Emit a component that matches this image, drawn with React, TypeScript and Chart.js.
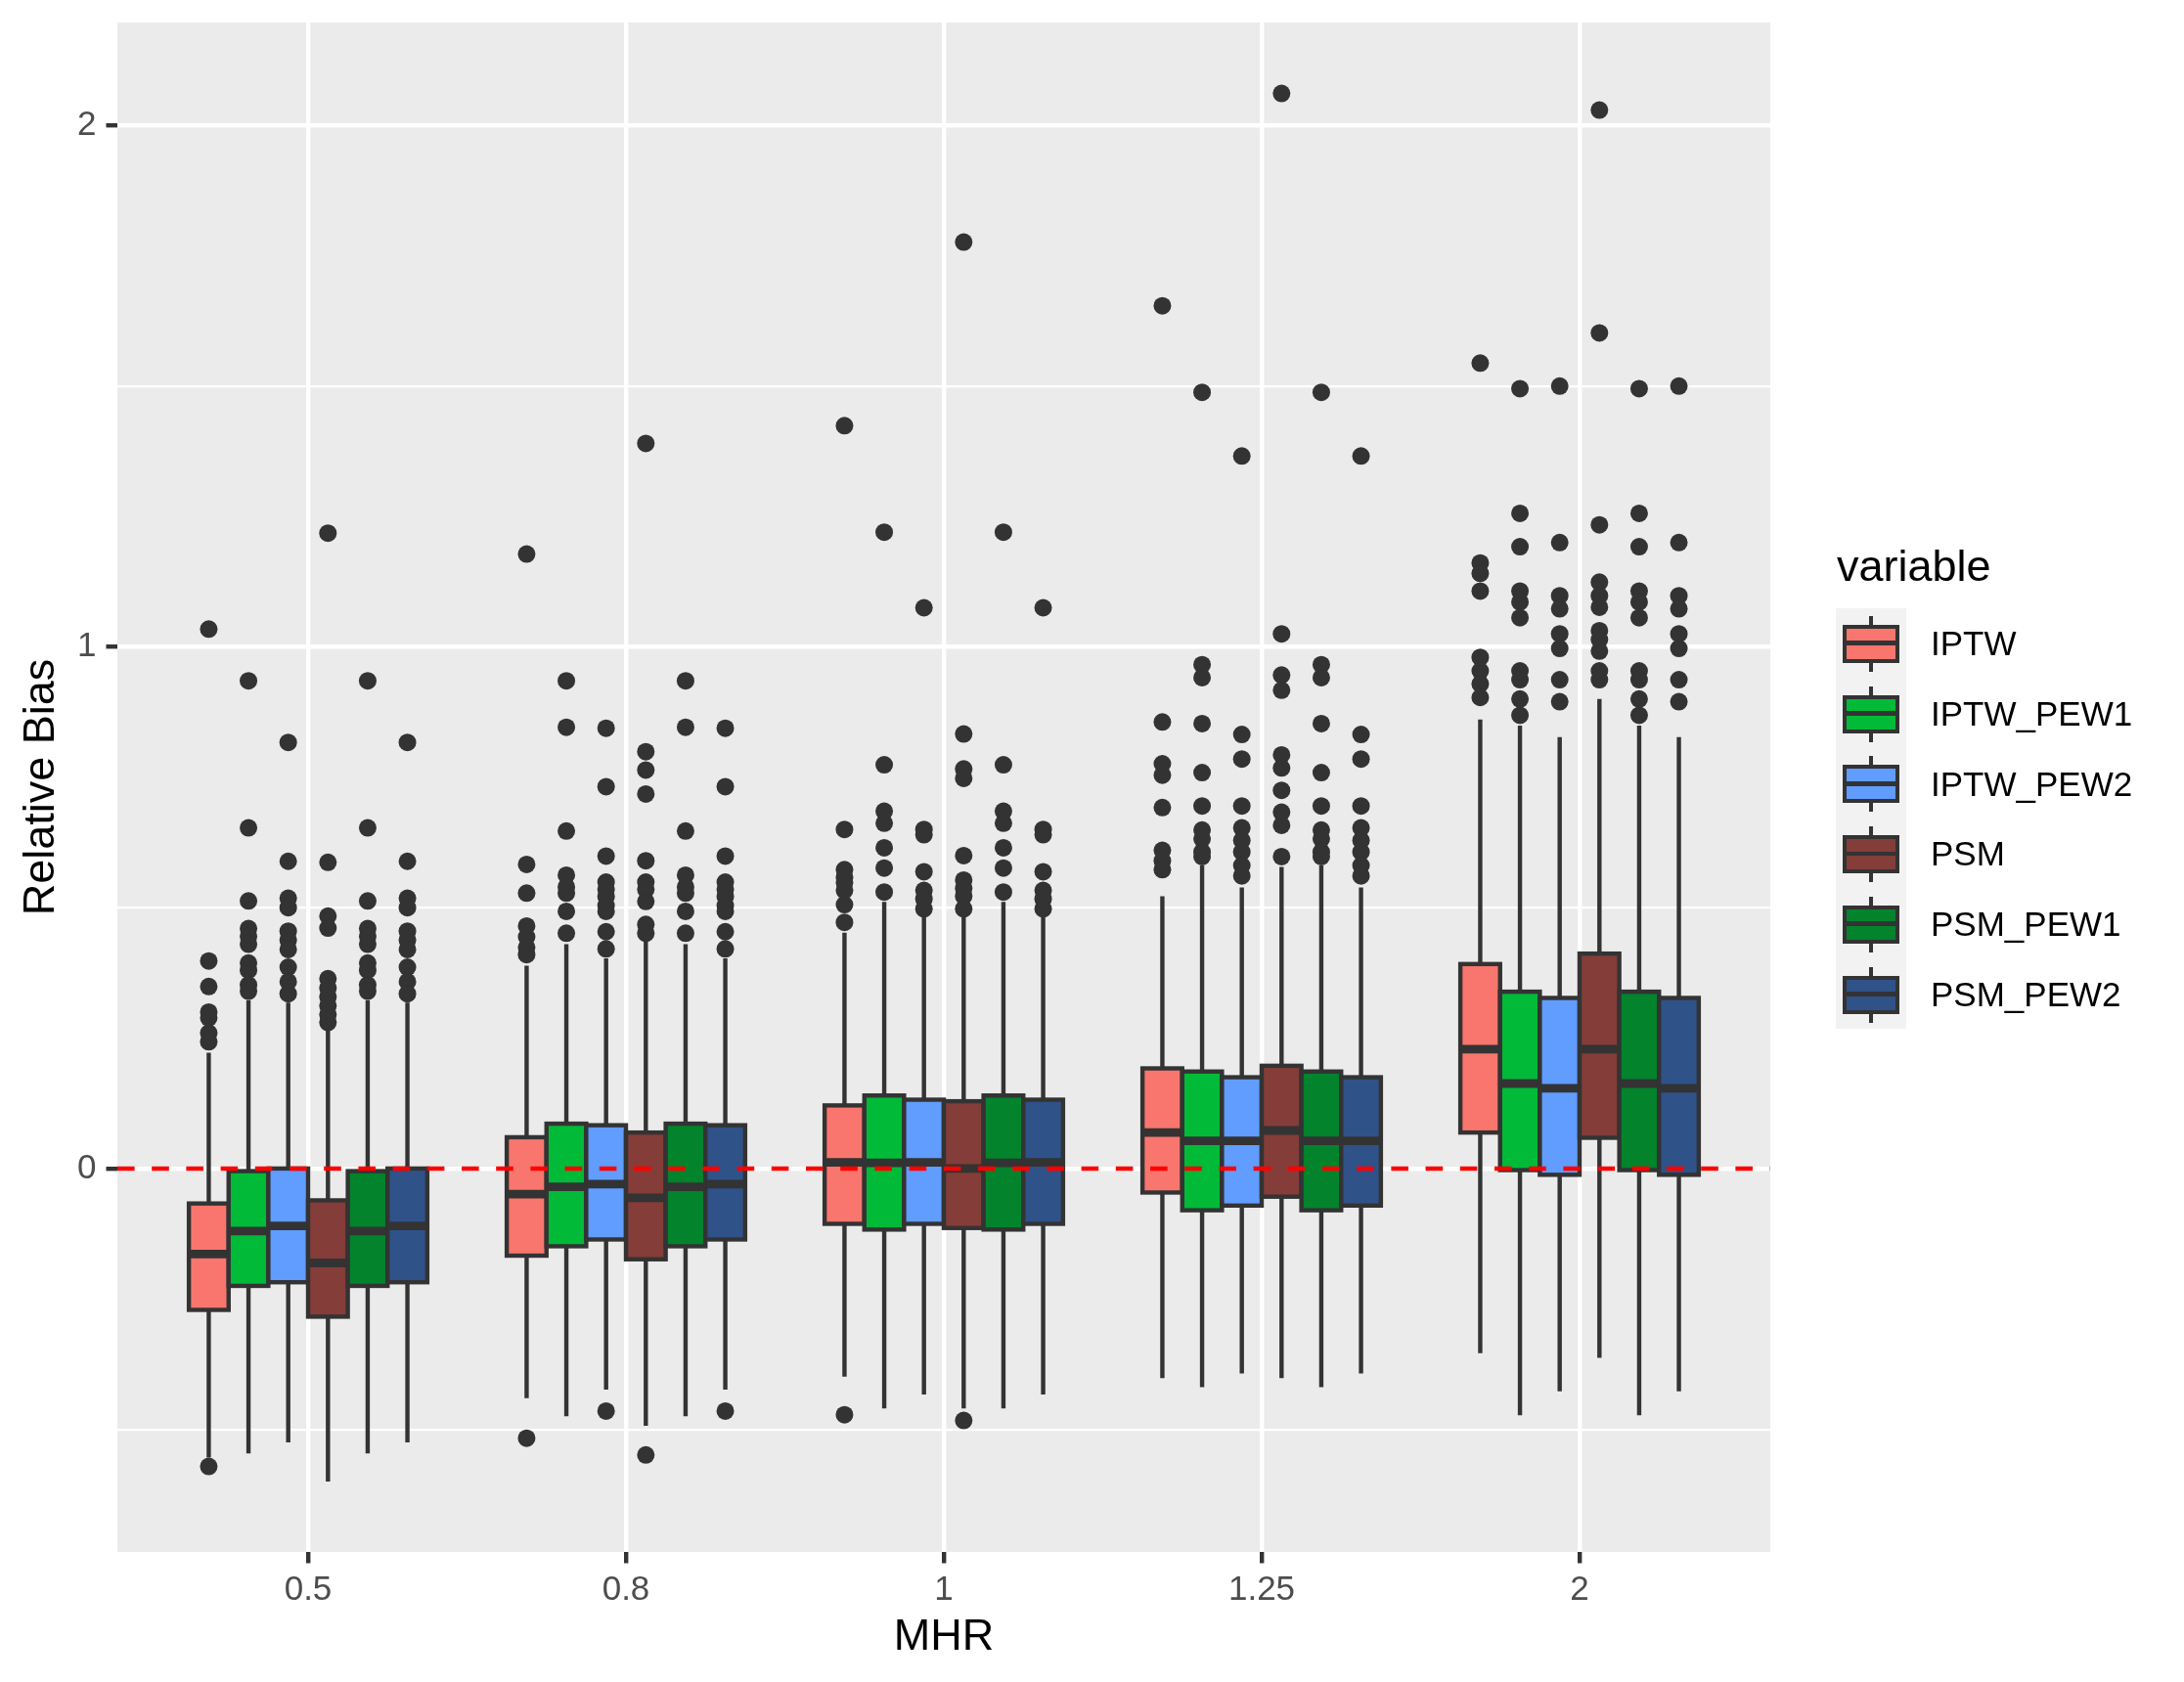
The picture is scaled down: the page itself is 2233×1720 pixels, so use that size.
import { useEffect, useRef } from "react"
import { Chart, registerables } from "chart.js"

Chart.register(...registerables)

const FONT = "'Liberation Sans', Arial, Helvetica, sans-serif"

const categories = ["0.5", "0.8", "1", "1.25", "2"]
const variables = ["IPTW", "IPTW_PEW1", "IPTW_PEW2", "PSM", "PSM_PEW1", "PSM_PEW2"]
const fillColors = ["#F8766D", "#00BA38", "#619CFF", "#843D38", "#02832C", "#2F5289"]

const yBreaks = [-0.5, 0, 0.5, 1, 1.5, 2]
const yLabelled = [0, 1, 2]

// box statistics: one row per variable, one value per MHR category
const whiskerLow = [
  [-0.554, -0.44, -0.399, -0.402, -0.354],
  [-0.546, -0.475, -0.46, -0.419, -0.473],
  [-0.525, -0.424, -0.433, -0.393, -0.427],
  [-0.6, -0.493, -0.46, -0.402, -0.363],
  [-0.546, -0.475, -0.46, -0.419, -0.473],
  [-0.525, -0.424, -0.433, -0.393, -0.427],
]
const lowerQuartile = [
  [-0.271, -0.167, -0.106, -0.046, 0.069],
  [-0.225, -0.149, -0.117, -0.08, -0.003],
  [-0.218, -0.136, -0.106, -0.071, -0.012],
  [-0.284, -0.174, -0.114, -0.054, 0.059],
  [-0.225, -0.149, -0.117, -0.08, -0.003],
  [-0.218, -0.136, -0.106, -0.071, -0.012],
]
const medians = [
  [-0.164, -0.049, 0.012, 0.069, 0.229],
  [-0.12, -0.035, 0.011, 0.053, 0.163],
  [-0.11, -0.03, 0.012, 0.053, 0.154],
  [-0.181, -0.056, 0.0, 0.073, 0.229],
  [-0.12, -0.035, 0.011, 0.053, 0.163],
  [-0.11, -0.03, 0.012, 0.053, 0.154],
]
const upperQuartile = [
  [-0.067, 0.06, 0.121, 0.192, 0.392],
  [-0.005, 0.086, 0.14, 0.186, 0.339],
  [0.0, 0.083, 0.132, 0.175, 0.327],
  [-0.061, 0.069, 0.129, 0.197, 0.412],
  [-0.005, 0.086, 0.14, 0.186, 0.339],
  [0.0, 0.083, 0.132, 0.175, 0.327],
]
const whiskerHigh = [
  [0.222, 0.389, 0.452, 0.522, 0.861],
  [0.323, 0.43, 0.511, 0.581, 0.849],
  [0.318, 0.403, 0.483, 0.539, 0.827],
  [0.266, 0.4375, 0.483, 0.578, 0.9],
  [0.323, 0.43, 0.511, 0.581, 0.849],
  [0.318, 0.403, 0.483, 0.539, 0.827],
]

// outliers per variable, one list per MHR category
const iptwOutliers = [
  [1.034, 0.398, 0.349, 0.3, 0.289, 0.26, 0.243, -0.571],
  [1.178, 0.583, 0.528, 0.465, 0.444, 0.424, 0.41, -0.517],
  [1.424, 0.65, 0.573, 0.558, 0.548, 0.533, 0.506, 0.472, -0.472],
  [1.654, 0.856, 0.776, 0.754, 0.692, 0.61, 0.59, 0.573],
  [1.544, 1.161, 1.141, 1.107, 0.98, 0.954, 0.929, 0.903],
]
const iptwPew1Outliers = [
  [0.935, 0.653, 0.513, 0.46, 0.445, 0.43, 0.394, 0.38, 0.352, 0.34],
  [0.935, 0.846, 0.647, 0.5625, 0.54, 0.528, 0.493, 0.451],
  [1.22, 0.774, 0.685, 0.662, 0.615, 0.576, 0.53],
  [1.488, 0.966, 0.941, 0.853, 0.759, 0.695, 0.649, 0.632, 0.607, 0.598],
  [1.495, 1.256, 1.192, 1.107, 1.086, 1.056, 0.954, 0.937, 0.9, 0.869],
]
const iptwPew2Outliers = [
  [0.817, 0.589, 0.518, 0.5, 0.455, 0.438, 0.42, 0.386, 0.358, 0.335],
  [0.844, 0.732, 0.599, 0.549, 0.535, 0.521, 0.504, 0.493, 0.454, 0.421, -0.465],
  [1.075, 0.65, 0.64, 0.569, 0.533, 0.517, 0.498],
  [1.366, 0.832, 0.785, 0.695, 0.653, 0.629, 0.607, 0.581, 0.561],
  [1.5, 1.2, 1.098, 1.073, 1.025, 0.997, 0.937, 0.895],
]
const psmOutliers = [
  [1.218, 0.587, 0.484, 0.461, 0.364, 0.346, 0.329, 0.312, 0.295, 0.28],
  [1.39, 0.799, 0.764, 0.718, 0.59, 0.549, 0.535, 0.512, 0.468, 0.451, -0.549],
  [1.776, 0.833, 0.766, 0.748, 0.6, 0.553, 0.537, 0.522, 0.498, -0.483],
  [2.061, 1.025, 0.946, 0.917, 0.793, 0.768, 0.725, 0.683, 0.658, 0.598],
  [2.029, 1.602, 1.234, 1.124, 1.098, 1.076, 1.031, 1.014, 0.992, 0.954, 0.937],
]
const psmPew1Outliers = [
  [0.935, 0.653, 0.513, 0.46, 0.445, 0.43, 0.394, 0.38, 0.352, 0.34],
  [0.935, 0.846, 0.647, 0.5625, 0.54, 0.528, 0.493, 0.451],
  [1.22, 0.774, 0.685, 0.662, 0.615, 0.576, 0.53],
  [1.488, 0.966, 0.941, 0.853, 0.759, 0.695, 0.649, 0.632, 0.607, 0.598],
  [1.495, 1.256, 1.192, 1.107, 1.086, 1.056, 0.954, 0.937, 0.9, 0.869],
]
const psmPew2Outliers = [
  [0.817, 0.589, 0.518, 0.5, 0.455, 0.438, 0.42, 0.386, 0.358, 0.335],
  [0.844, 0.732, 0.599, 0.549, 0.535, 0.521, 0.504, 0.493, 0.454, 0.421, -0.465],
  [1.075, 0.65, 0.64, 0.569, 0.533, 0.517, 0.498],
  [1.366, 0.832, 0.785, 0.695, 0.653, 0.629, 0.607, 0.581, 0.561],
  [1.5, 1.2, 1.098, 1.073, 1.025, 0.997, 0.937, 0.895],
]
const outlierSets = [iptwOutliers, iptwPew1Outliers, iptwPew2Outliers, psmOutliers, psmPew1Outliers, psmPew2Outliers]

// dodge width 0.75 shared by six boxes
const slot = 0.75 / variables.length
const boxX = (ci: number, vi: number) => ci + (vi - (variables.length - 1) / 2) * slot

const LINE = 4.4
const INK = "#333333"

const boxPlugin = {
  id: "ggBoxes",
  beforeDraw(chart: Chart) {
    const { ctx, chartArea: a } = chart
    ctx.save()
    ctx.fillStyle = "#EBEBEB"
    ctx.fillRect(a.left, a.top, a.right - a.left, a.bottom - a.top)
    ctx.restore()
  },
  beforeDatasetsDraw(chart: Chart) {
    const { ctx } = chart
    const xs = chart.scales.x
    const ys = chart.scales.y
    const half = (xs.getPixelForValue(slot) - xs.getPixelForValue(0)) / 2
    ctx.save()
    ctx.strokeStyle = INK
    ctx.lineCap = "butt"
    ctx.lineJoin = "miter"
    variables.forEach((_, vi) => {
      categories.forEach((_, ci) => {
        const cx = xs.getPixelForValue(boxX(ci, vi))
        const lo = ys.getPixelForValue(whiskerLow[vi][ci])
        const q1 = ys.getPixelForValue(lowerQuartile[vi][ci])
        const md = ys.getPixelForValue(medians[vi][ci])
        const q3 = ys.getPixelForValue(upperQuartile[vi][ci])
        const hi = ys.getPixelForValue(whiskerHigh[vi][ci])

        ctx.lineWidth = LINE
        ctx.beginPath()
        ctx.moveTo(cx, hi)
        ctx.lineTo(cx, q3)
        ctx.moveTo(cx, q1)
        ctx.lineTo(cx, lo)
        ctx.stroke()

        ctx.fillStyle = fillColors[vi]
        ctx.fillRect(cx - half, q3, half * 2, q1 - q3)
        ctx.strokeRect(cx - half, q3, half * 2, q1 - q3)

        ctx.lineWidth = LINE * 2
        ctx.beginPath()
        ctx.moveTo(cx - half, md)
        ctx.lineTo(cx + half, md)
        ctx.stroke()
      })
    })
    ctx.restore()
  },
  afterDatasetsDraw(chart: Chart) {
    const { ctx, chartArea: a } = chart
    const y0 = chart.scales.y.getPixelForValue(0)
    ctx.save()
    ctx.strokeStyle = "#FF0000"
    ctx.lineWidth = LINE
    ctx.setLineDash([17.6, 17.6])
    ctx.beginPath()
    ctx.moveTo(a.left, y0)
    ctx.lineTo(a.right, y0)
    ctx.stroke()
    ctx.restore()
  },
}

function BoxChart() {
  const chartRef = useRef<HTMLCanvasElement>(null)
  const chartInstance = useRef<Chart | null>(null)

  useEffect(() => {
    if (!chartRef.current) return
    const ctx = chartRef.current.getContext("2d")
    if (!ctx) return

    if (chartInstance.current) {
      chartInstance.current.destroy()
    }

    chartInstance.current = new Chart(ctx, {
      type: "scatter",
      data: {
        datasets: variables.map((name, vi) => ({
          label: name,
          data: outlierSets[vi].flatMap((vals, ci) => vals.map((y) => ({ x: boxX(ci, vi), y }))),
          pointRadius: 9,
          pointHoverRadius: 9,
          backgroundColor: INK,
          borderWidth: 0,
        })),
      },
      options: {
        animation: false,
        responsive: false,
        devicePixelRatio: 1,
        events: [],
        layout: { padding: { top: 23, right: 423, bottom: 0, left: 0 } },
        plugins: {
          legend: { display: false },
          tooltip: { enabled: false },
        },
        scales: {
          x: {
            type: "linear",
            position: "bottom",
            min: -0.6,
            max: 4.6,
            afterBuildTicks: (axis: any) => {
              axis.ticks = categories.map((_, i) => ({ value: i }))
            },
            afterFit: (axis: any) => {
              axis.height = 133
              axis.paddingLeft = 0
              axis.paddingRight = 0
            },
            border: { display: false },
            grid: {
              color: "#FFFFFF",
              lineWidth: LINE,
              tickColor: INK,
              tickWidth: LINE,
              tickLength: 11.5,
            },
            ticks: {
              autoSkip: false,
              maxRotation: 0,
              padding: 7,
              color: "#4D4D4D",
              font: { family: FONT, size: 35 },
              callback: (value: any) => categories[Number(value)] ?? "",
            },
            title: {
              display: true,
              text: "MHR",
              color: "#000000",
              font: { family: FONT, size: 45 },
              padding: { top: 0, bottom: 18 },
            },
          },
          y: {
            type: "linear",
            min: -0.735,
            max: 2.197,
            afterBuildTicks: (axis: any) => {
              axis.ticks = yBreaks.map((value) => ({ value }))
            },
            afterFit: (axis: any) => {
              axis.width = 120
              axis.paddingTop = 0
              axis.paddingBottom = 0
            },
            border: { display: false },
            grid: {
              color: "#FFFFFF",
              lineWidth: (c: any) => (c.tick && yLabelled.includes(c.tick.value) ? LINE : LINE / 2),
              tickColor: (c: any) => (c.tick && yLabelled.includes(c.tick.value) ? INK : "rgba(0,0,0,0)"),
              tickWidth: LINE,
              tickLength: 11.5,
            },
            ticks: {
              padding: 10,
              color: "#4D4D4D",
              font: { family: FONT, size: 35 },
              callback: (value: any) => (yLabelled.includes(Number(value)) ? String(value) : ""),
            },
            title: {
              display: true,
              text: "Relative Bias",
              color: "#000000",
              font: { family: FONT, size: 45 },
              padding: { top: 16, bottom: 0 },
            },
          },
        },
      },
      plugins: [boxPlugin],
    })

    return () => {
      if (chartInstance.current) {
        chartInstance.current.destroy()
        chartInstance.current = null
      }
    }
  }, [])

  return <canvas ref={chartRef} width={2233} height={1720} style={{ display: "block", width: 2233, height: 1720 }}></canvas>
}

const KEY_H = 71.7

function Legend() {
  return (
    <>
      <div style={{ position: "absolute", left: 1878, top: 556, font: `45px ${FONT}`, lineHeight: "45px", color: "#000" }}>
        variable
      </div>
      <div style={{ position: "absolute", left: 1877, top: 622, width: 72, height: KEY_H * variables.length, background: "#F2F2F2" }} />
      {variables.map((name, i) => (
        <div
          key={name}
          style={{ position: "absolute", left: 1877, top: 622 + i * KEY_H, height: KEY_H, display: "flex", alignItems: "center" }}
        >
          <div style={{ position: "relative", width: 72, height: KEY_H }}>
            <div style={{ position: "absolute", left: 36 - 2.2, top: 8, width: 4.4, height: 57, background: INK }} />
            <div
              style={{
                position: "absolute",
                left: 7,
                top: 17,
                width: 58,
                height: 39,
                boxSizing: "border-box",
                border: `4.4px solid ${INK}`,
                background: fillColors[i],
              }}
            />
            <div style={{ position: "absolute", left: 7, top: KEY_H / 2 - 2.4, width: 58, height: 4.8, background: INK }} />
          </div>
          <span style={{ marginLeft: 25, font: `35px ${FONT}`, lineHeight: "35px", color: "#000" }}>{name}</span>
        </div>
      ))}
    </>
  )
}

export default function App() {
  return (
    <div style={{ position: "fixed", left: 0, top: 0, width: 2233, height: 1720, background: "#FFFFFF", overflow: "hidden" }}>
      <BoxChart />
      <Legend />
    </div>
  )
}
